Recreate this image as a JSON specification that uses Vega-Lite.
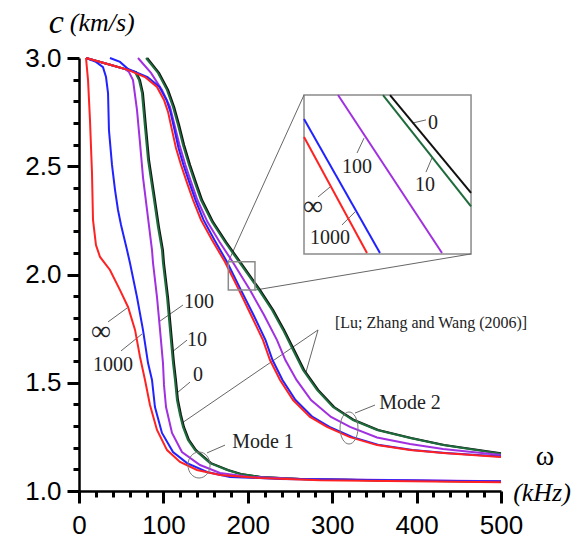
{
  "$schema": "https://vega.github.io/schema/vega-lite/v6.json",
  "width": 422,
  "height": 433,
  "autosize": {"type": "none"},
  "padding": {"left": 79, "top": 58, "right": 72, "bottom": 58},
  "background": "white",
  "config": {"view": {"stroke": null}},
  "datasets": {
    "curves": [
      {"s":"inf","m":1,"w":8.3,"c":3.0},{"s":"inf","m":1,"w":10.7,"c":2.898},{"s":"inf","m":1,"w":13.0,"c":2.714},{"s":"inf","m":1,"w":15.4,"c":2.469},{"s":"inf","m":1,"w":16.6,"c":2.252},{"s":"inf","m":1,"w":20.1,"c":2.136},{"s":"inf","m":1,"w":24.9,"c":2.081},{"s":"inf","m":1,"w":36.7,"c":2.021},{"s":"inf","m":1,"w":48.6,"c":1.928},{"s":"inf","m":1,"w":58.1,"c":1.85},{"s":"inf","m":1,"w":66.4,"c":1.744},{"s":"inf","m":1,"w":72.3,"c":1.619},{"s":"inf","m":1,"w":78.2,"c":1.513},{"s":"inf","m":1,"w":84.1,"c":1.397},{"s":"inf","m":1,"w":92.4,"c":1.282},{"s":"inf","m":1,"w":104.3,"c":1.189},{"s":"inf","m":1,"w":119.7,"c":1.134},{"s":"inf","m":1,"w":139.8,"c":1.097},{"s":"inf","m":1,"w":167.1,"c":1.074},{"s":"inf","m":1,"w":214.5,"c":1.06},{"s":"inf","m":1,"w":285.5,"c":1.05},{"s":"inf","m":1,"w":500,"c":1.04},
      {"s":"1000","m":1,"w":8.3,"c":3.0},{"s":"1000","m":1,"w":20.1,"c":2.982},{"s":"1000","m":1,"w":28.4,"c":2.958},{"s":"1000","m":1,"w":32.0,"c":2.912},{"s":"1000","m":1,"w":34.4,"c":2.838},{"s":"1000","m":1,"w":35.5,"c":2.667},{"s":"1000","m":1,"w":39.1,"c":2.506},{"s":"1000","m":1,"w":42.7,"c":2.39},{"s":"1000","m":1,"w":46.2,"c":2.298},{"s":"1000","m":1,"w":49.8,"c":2.229},{"s":"1000","m":1,"w":56.9,"c":2.113},{"s":"1000","m":1,"w":60.4,"c":2.053},{"s":"1000","m":1,"w":68.7,"c":1.896},{"s":"1000","m":1,"w":75.8,"c":1.744},{"s":"1000","m":1,"w":81.8,"c":1.591},{"s":"1000","m":1,"w":86.5,"c":1.513},{"s":"1000","m":1,"w":90.0,"c":1.388},{"s":"1000","m":1,"w":98.3,"c":1.268},{"s":"1000","m":1,"w":111.4,"c":1.18},{"s":"1000","m":1,"w":128.0,"c":1.129},{"s":"1000","m":1,"w":151.7,"c":1.088},{"s":"1000","m":1,"w":178.9,"c":1.065},{"s":"1000","m":1,"w":238.2,"c":1.056},{"s":"1000","m":1,"w":500,"c":1.044},
      {"s":"100","m":1,"w":8.3,"c":3.0},{"s":"100","m":1,"w":37.9,"c":2.968},{"s":"100","m":1,"w":54.5,"c":2.949},{"s":"100","m":1,"w":59.2,"c":2.935},{"s":"100","m":1,"w":64.0,"c":2.898},{"s":"100","m":1,"w":68.7,"c":2.76},{"s":"100","m":1,"w":72.3,"c":2.607},{"s":"100","m":1,"w":75.8,"c":2.45},{"s":"100","m":1,"w":80.6,"c":2.298},{"s":"100","m":1,"w":86.5,"c":2.113},{"s":"100","m":1,"w":87.7,"c":2.053},{"s":"100","m":1,"w":92.4,"c":1.896},{"s":"100","m":1,"w":96.0,"c":1.744},{"s":"100","m":1,"w":99.5,"c":1.591},{"s":"100","m":1,"w":100.7,"c":1.49},{"s":"100","m":1,"w":103.1,"c":1.388},{"s":"100","m":1,"w":110.2,"c":1.268},{"s":"100","m":1,"w":122.0,"c":1.18},{"s":"100","m":1,"w":143.4,"c":1.12},{"s":"100","m":1,"w":167.1,"c":1.083},{"s":"100","m":1,"w":202.6,"c":1.065},{"s":"100","m":1,"w":261.8,"c":1.056},{"s":"100","m":1,"w":500,"c":1.045},
      {"s":"10","m":1,"w":8.3,"c":3.0},{"s":"10","m":1,"w":37.9,"c":2.968},{"s":"10","m":1,"w":58.1,"c":2.945},{"s":"10","m":1,"w":66.4,"c":2.935},{"s":"10","m":1,"w":71.1,"c":2.898},{"s":"10","m":1,"w":74.6,"c":2.838},{"s":"10","m":1,"w":78.2,"c":2.681},{"s":"10","m":1,"w":81.8,"c":2.529},{"s":"10","m":1,"w":87.7,"c":2.376},{"s":"10","m":1,"w":93.6,"c":2.219},{"s":"10","m":1,"w":98.3,"c":2.113},{"s":"10","m":1,"w":99.5,"c":2.053},{"s":"10","m":1,"w":104.3,"c":1.896},{"s":"10","m":1,"w":107.8,"c":1.744},{"s":"10","m":1,"w":111.4,"c":1.591},{"s":"10","m":1,"w":113.7,"c":1.513},{"s":"10","m":1,"w":116.1,"c":1.42},{"s":"10","m":1,"w":119.7,"c":1.351},{"s":"10","m":1,"w":123.2,"c":1.296},{"s":"10","m":1,"w":129.1,"c":1.236},{"s":"10","m":1,"w":137.4,"c":1.189},{"s":"10","m":1,"w":155.2,"c":1.129},{"s":"10","m":1,"w":175.4,"c":1.097},{"s":"10","m":1,"w":190.8,"c":1.079},{"s":"10","m":1,"w":214.5,"c":1.065},{"s":"10","m":1,"w":261.8,"c":1.056},{"s":"10","m":1,"w":380.1,"c":1.047},{"s":"10","m":1,"w":500,"c":1.044},
      {"s":"0","m":1,"w":8.3,"c":3.0},{"s":"0","m":1,"w":37.9,"c":2.968},{"s":"0","m":1,"w":58.1,"c":2.945},{"s":"0","m":1,"w":67.6,"c":2.935},{"s":"0","m":1,"w":72.3,"c":2.898},{"s":"0","m":1,"w":75.8,"c":2.838},{"s":"0","m":1,"w":79.4,"c":2.681},{"s":"0","m":1,"w":83.0,"c":2.529},{"s":"0","m":1,"w":88.9,"c":2.376},{"s":"0","m":1,"w":94.8,"c":2.219},{"s":"0","m":1,"w":99.5,"c":2.113},{"s":"0","m":1,"w":100.7,"c":2.053},{"s":"0","m":1,"w":105.5,"c":1.896},{"s":"0","m":1,"w":109.0,"c":1.744},{"s":"0","m":1,"w":112.6,"c":1.591},{"s":"0","m":1,"w":114.9,"c":1.513},{"s":"0","m":1,"w":117.3,"c":1.42},{"s":"0","m":1,"w":120.9,"c":1.351},{"s":"0","m":1,"w":124.4,"c":1.296},{"s":"0","m":1,"w":130.3,"c":1.236},{"s":"0","m":1,"w":138.6,"c":1.189},{"s":"0","m":1,"w":156.4,"c":1.129},{"s":"0","m":1,"w":176.6,"c":1.097},{"s":"0","m":1,"w":192.0,"c":1.079},{"s":"0","m":1,"w":215.7,"c":1.065},{"s":"0","m":1,"w":263.0,"c":1.056},{"s":"0","m":1,"w":381.3,"c":1.047},{"s":"0","m":1,"w":500,"c":1.044},
      {"s":"inf","m":2,"w":8.3,"c":3.0},{"s":"inf","m":2,"w":37.9,"c":2.968},{"s":"inf","m":2,"w":58.1,"c":2.945},{"s":"inf","m":2,"w":78.2,"c":2.912},{"s":"inf","m":2,"w":92.4,"c":2.866},{"s":"inf","m":2,"w":100.7,"c":2.806},{"s":"inf","m":2,"w":105.5,"c":2.751},{"s":"inf","m":2,"w":110.2,"c":2.667},{"s":"inf","m":2,"w":114.9,"c":2.584},{"s":"inf","m":2,"w":120.9,"c":2.506},{"s":"inf","m":2,"w":128.0,"c":2.423},{"s":"inf","m":2,"w":135.1,"c":2.344},{"s":"inf","m":2,"w":144.5,"c":2.252},{"s":"inf","m":2,"w":157.6,"c":2.159},{"s":"inf","m":2,"w":173.0,"c":2.058},{"s":"inf","m":2,"w":189.6,"c":1.928},{"s":"inf","m":2,"w":203.8,"c":1.813},{"s":"inf","m":2,"w":218.0,"c":1.697},{"s":"inf","m":2,"w":226.3,"c":1.605},{"s":"inf","m":2,"w":238.2,"c":1.513},{"s":"inf","m":2,"w":253.6,"c":1.42},{"s":"inf","m":2,"w":273.7,"c":1.342},{"s":"inf","m":2,"w":293.8,"c":1.296},{"s":"inf","m":2,"w":321.1,"c":1.249},{"s":"inf","m":2,"w":353.1,"c":1.212},{"s":"inf","m":2,"w":392.2,"c":1.189},{"s":"inf","m":2,"w":431.3,"c":1.176},{"s":"inf","m":2,"w":500,"c":1.157},
      {"s":"1000","m":2,"w":36.7,"c":3.0},{"s":"1000","m":2,"w":48.6,"c":2.982},{"s":"1000","m":2,"w":58.1,"c":2.949},{"s":"1000","m":2,"w":81.2,"c":2.912},{"s":"1000","m":2,"w":95.4,"c":2.866},{"s":"1000","m":2,"w":103.7,"c":2.806},{"s":"1000","m":2,"w":108.4,"c":2.751},{"s":"1000","m":2,"w":113.2,"c":2.667},{"s":"1000","m":2,"w":117.9,"c":2.584},{"s":"1000","m":2,"w":123.8,"c":2.506},{"s":"1000","m":2,"w":130.9,"c":2.423},{"s":"1000","m":2,"w":138.0,"c":2.344},{"s":"1000","m":2,"w":147.5,"c":2.252},{"s":"1000","m":2,"w":160.5,"c":2.159},{"s":"1000","m":2,"w":175.4,"c":2.058},{"s":"1000","m":2,"w":191.9,"c":1.928},{"s":"1000","m":2,"w":206.8,"c":1.813},{"s":"1000","m":2,"w":221.0,"c":1.697},{"s":"1000","m":2,"w":229.3,"c":1.605},{"s":"1000","m":2,"w":241.1,"c":1.513},{"s":"1000","m":2,"w":256.5,"c":1.42},{"s":"1000","m":2,"w":276.7,"c":1.342},{"s":"1000","m":2,"w":296.8,"c":1.296},{"s":"1000","m":2,"w":324.1,"c":1.249},{"s":"1000","m":2,"w":356.0,"c":1.212},{"s":"1000","m":2,"w":395.1,"c":1.189},{"s":"1000","m":2,"w":434.2,"c":1.176},{"s":"1000","m":2,"w":500,"c":1.159},
      {"s":"100","m":2,"w":69.9,"c":3.0},{"s":"100","m":2,"w":85.3,"c":2.931},{"s":"100","m":2,"w":98.3,"c":2.852},{"s":"100","m":2,"w":107.8,"c":2.774},{"s":"100","m":2,"w":113.2,"c":2.691},{"s":"100","m":2,"w":119.1,"c":2.598},{"s":"100","m":2,"w":126.1,"c":2.506},{"s":"100","m":2,"w":133.2,"c":2.423},{"s":"100","m":2,"w":140.3,"c":2.344},{"s":"100","m":2,"w":152.3,"c":2.242},{"s":"100","m":2,"w":166.6,"c":2.15},{"s":"100","m":2,"w":182.1,"c":2.058},{"s":"100","m":2,"w":202.6,"c":1.928},{"s":"100","m":2,"w":219.2,"c":1.813},{"s":"100","m":2,"w":234.6,"c":1.697},{"s":"100","m":2,"w":244.5,"c":1.605},{"s":"100","m":2,"w":257.7,"c":1.513},{"s":"100","m":2,"w":274.9,"c":1.42},{"s":"100","m":2,"w":298.6,"c":1.342},{"s":"100","m":2,"w":321.1,"c":1.296},{"s":"100","m":2,"w":353.1,"c":1.247},{"s":"100","m":2,"w":392.2,"c":1.217},{"s":"100","m":2,"w":431.3,"c":1.194},{"s":"100","m":2,"w":500,"c":1.166},
      {"s":"10","m":2,"w":79.4,"c":3.0},{"s":"10","m":2,"w":93.6,"c":2.931},{"s":"10","m":2,"w":104.3,"c":2.852},{"s":"10","m":2,"w":111.4,"c":2.774},{"s":"10","m":2,"w":117.3,"c":2.691},{"s":"10","m":2,"w":123.2,"c":2.598},{"s":"10","m":2,"w":130.3,"c":2.506},{"s":"10","m":2,"w":137.4,"c":2.423},{"s":"10","m":2,"w":144.5,"c":2.344},{"s":"10","m":2,"w":157.6,"c":2.242},{"s":"10","m":2,"w":173.0,"c":2.15},{"s":"10","m":2,"w":189.6,"c":2.058},{"s":"10","m":2,"w":213.3,"c":1.928},{"s":"10","m":2,"w":228.7,"c":1.836},{"s":"10","m":2,"w":241.7,"c":1.744},{"s":"10","m":2,"w":253.6,"c":1.651},{"s":"10","m":2,"w":265.4,"c":1.559},{"s":"10","m":2,"w":282.0,"c":1.467},{"s":"10","m":2,"w":300.9,"c":1.388},{"s":"10","m":2,"w":324.6,"c":1.328},{"s":"10","m":2,"w":353.1,"c":1.282},{"s":"10","m":2,"w":392.2,"c":1.245},{"s":"10","m":2,"w":431.3,"c":1.212},{"s":"10","m":2,"w":500,"c":1.172},
      {"s":"0","m":2,"w":80.8,"c":3.0},{"s":"0","m":2,"w":95.0,"c":2.931},{"s":"0","m":2,"w":105.7,"c":2.852},{"s":"0","m":2,"w":112.8,"c":2.774},{"s":"0","m":2,"w":118.7,"c":2.691},{"s":"0","m":2,"w":124.6,"c":2.598},{"s":"0","m":2,"w":131.7,"c":2.506},{"s":"0","m":2,"w":138.8,"c":2.423},{"s":"0","m":2,"w":145.9,"c":2.344},{"s":"0","m":2,"w":159.0,"c":2.242},{"s":"0","m":2,"w":174.4,"c":2.15},{"s":"0","m":2,"w":191.0,"c":2.058},{"s":"0","m":2,"w":214.7,"c":1.928},{"s":"0","m":2,"w":230.1,"c":1.836},{"s":"0","m":2,"w":243.1,"c":1.744},{"s":"0","m":2,"w":255.0,"c":1.651},{"s":"0","m":2,"w":266.8,"c":1.559},{"s":"0","m":2,"w":283.4,"c":1.467},{"s":"0","m":2,"w":302.3,"c":1.388},{"s":"0","m":2,"w":326.0,"c":1.328},{"s":"0","m":2,"w":354.5,"c":1.282},{"s":"0","m":2,"w":393.6,"c":1.245},{"s":"0","m":2,"w":432.7,"c":1.212},{"s":"0","m":2,"w":500,"c":1.174}
    ],
    "inset": [
      {"s":"inf","w":266.6,"c":2.635,"w2":341.2,"c2":2.099},
      {"s":"1000","w":266.6,"c":2.718,"w2":356.6,"c2":2.099},
      {"s":"100","w":306.9,"c":2.829,"w2":430.1,"c2":2.099},
      {"s":"10","w":360.2,"c":2.829,"w2":464.5,"c2":2.315},
      {"s":"0","w":368.5,"c":2.829,"w2":464.5,"c2":2.377}
    ],
    "boxes": [
      {"k":"inset","w":266.6,"c":2.829,"w2":464.5,"c2":2.095},
      {"k":"small","w":176.9,"c":2.059,"w2":208.5,"c2":1.928}
    ],
    "leaders": [
      {"k":"lead","w":34.4,"c":1.781,"w2":56.9,"c2":1.845},
      {"k":"lead","w":49.8,"c":1.647,"w2":74.6,"c2":1.725},
      {"k":"lead","w":123.2,"c":1.859,"w2":96.0,"c2":1.785},
      {"k":"lead","w":128.0,"c":1.697,"w2":110.2,"c2":1.642},
      {"k":"lead","w":131.5,"c":1.503,"w2":116.1,"c2":1.453},
      {"k":"lead","w":151.7,"c":1.176,"w2":173.0,"c2":1.212},
      {"k":"lead","w":327.0,"c":1.36,"w2":350.7,"c2":1.397},
      {"k":"lead","w":283.2,"c":1.744,"w2":269.0,"c2":1.55},
      {"k":"lead","w":283.2,"c":1.744,"w2":122.0,"c2":1.314},
      {"k":"lead","w":395.7,"c":2.7,"w2":411.1,"c2":2.714},
      {"k":"lead","w":411.1,"c":2.473,"w2":418.2,"c2":2.538},
      {"k":"lead","w":329.4,"c":2.561,"w2":337.7,"c2":2.63},
      {"k":"lead","w":283.2,"c":2.358,"w2":297.4,"c2":2.404},
      {"k":"lead","w":311.6,"c":2.229,"w2":327.0,"c2":2.289},
      {"k":"conn","w":176.9,"c":2.059,"w2":266.6,"c2":2.829},
      {"k":"conn","w":208.5,"c":1.928,"w2":464.5,"c2":2.095}
    ],
    "ellipses": [
      {"k":"mode1","w":142.2,"c":1.12},
      {"k":"mode2","w":319.9,"c":1.291}
    ],
    "texts": [
      {"k":"lab","t":"1000","w":40.3,"c":1.582},
      {"k":"lab","t":"100","w":142.2,"c":1.873},
      {"k":"lab","t":"10","w":139.8,"c":1.697},
      {"k":"lab","t":"0","w":141.0,"c":1.536},
      {"k":"lab","t":"Mode 1","w":218.0,"c":1.226},
      {"k":"lab","t":"Mode 2","w":392.2,"c":1.406},
      {"k":"lab","t":"0","w":419.4,"c":2.7},
      {"k":"lab","t":"10","w":410.0,"c":2.413},
      {"k":"lab","t":"100","w":329.4,"c":2.497},
      {"k":"lab","t":"1000","w":297.4,"c":2.169},
      {"k":"inf","t":"∞","w":26.1,"c":1.734},
      {"k":"inf","t":"∞","w":277.3,"c":2.312},
      {"k":"ref","t":"[Lu; Zhang and Wang (2006)]","w":417.1,"c":1.776},
      {"k":"big","t":"c","w":-27.0,"c":3.16},
      {"k":"unit","t":"(km/s)","w":27.5,"c":3.16},
      {"k":"omega","t":"ω","w":552.1,"c":1.157},
      {"k":"unit","t":"(kHz)","w":548.6,"c":0.99}
    ]
  },
  "encoding": {
    "x": {"field": "w", "type": "quantitative", "scale": {"domain": [0, 500], "nice": false, "zero": false},
      "axis": {"orient": "bottom", "title": null, "grid": false, "ticks": true,
        "values": [0,20,40,60,80,100,120,140,160,180,200,220,240,260,280,300,320,340,360,380,400,420,440,460,480,500],
        "labelExpr": "datum.value % 100 === 0 ? datum.label : ''",
        "tickSize": {"condition": {"test": "datum.value % 100 === 0", "value": 12}, "value": 6},
        "tickWidth": 3, "tickColor": "#000000",
        "domainColor": "black", "domainWidth": 2.5,
        "labelFont": "Liberation Sans", "labelFontSize": 26, "labelColor": "black", "labelPadding": 9, "labelFlush": false, "labelOverlap": false}},
    "y": {"field": "c", "type": "quantitative", "scale": {"domain": [1, 3], "nice": false, "zero": false},
      "axis": {"orient": "left", "title": null, "grid": false, "ticks": true,
        "values": [1.0,1.1,1.2,1.3,1.4,1.5,1.6,1.7,1.8,1.9,2.0,2.1,2.2,2.3,2.4,2.5,2.6,2.7,2.8,2.9,3.0],
        "labelExpr": "abs(datum.value*2 - round(datum.value*2)) < 0.01 ? format(datum.value, '.1f') : ''",
        "tickSize": {"condition": {"test": "abs(datum.value*2 - round(datum.value*2)) < 0.01", "value": 12}, "value": 6},
        "tickWidth": 3, "tickColor": "#000000",
        "domainColor": "black", "domainWidth": 2.5,
        "labelFont": "Liberation Sans", "labelFontSize": 26, "labelColor": "black", "labelPadding": 6, "labelFlush": false, "labelOverlap": false}}
  },
  "layer": [
    {"data": {"name": "boxes"}, "transform": [{"filter": "datum.k == 'inset'"}], "mark": {"type": "rect", "fill": "white", "stroke": "#8a8a8a", "strokeWidth": 1.5}, "encoding": {"x2": {"field": "w2"}, "y2": {"field": "c2"}}},
    {"data": {"name": "leaders"}, "mark": {"type": "rule", "color": "#666666", "strokeWidth": 1}, "encoding": {"x2": {"field": "w2"}, "y2": {"field": "c2"}}},
    {"data": {"name": "curves"}, "transform": [{"filter": "datum.s == '0'"}], "mark": {"type": "line", "color": "#111111", "strokeWidth": 2}, "encoding": {"detail": {"field": "m"}}},
    {"data": {"name": "curves"}, "transform": [{"filter": "datum.s == '10'"}], "mark": {"type": "line", "color": "#1e6b3c", "strokeWidth": 2}, "encoding": {"detail": {"field": "m"}}},
    {"data": {"name": "curves"}, "transform": [{"filter": "datum.s == '100'"}], "mark": {"type": "line", "color": "#a030e0", "strokeWidth": 2}, "encoding": {"detail": {"field": "m"}}},
    {"data": {"name": "curves"}, "transform": [{"filter": "datum.s == '1000'"}], "mark": {"type": "line", "color": "#2222ff", "strokeWidth": 2}, "encoding": {"detail": {"field": "m"}}},
    {"data": {"name": "curves"}, "transform": [{"filter": "datum.s == 'inf'"}], "mark": {"type": "line", "color": "#ff2222", "strokeWidth": 2}, "encoding": {"detail": {"field": "m"}}},
    {"data": {"name": "inset"}, "mark": {"type": "rule", "strokeWidth": 2}, "encoding": {"x2": {"field": "w2"}, "y2": {"field": "c2"}, "color": {"field": "s", "type": "nominal", "legend": null, "scale": {"domain": ["inf","1000","100","10","0"], "range": ["#ff2222","#2222ff","#a030e0","#1e6b3c","#111111"]}}}},
    {"data": {"name": "boxes"}, "transform": [{"filter": "datum.k == 'small'"}], "mark": {"type": "rect", "fill": null, "fillOpacity": 0, "stroke": "#8a8a8a", "strokeWidth": 1.5}, "encoding": {"x2": {"field": "w2"}, "y2": {"field": "c2"}}},
    {"data": {"name": "ellipses"}, "transform": [{"filter": "datum.k == 'mode1'"}], "mark": {"type": "point", "filled": false, "stroke": "#777777", "strokeWidth": 1, "size": 676, "opacity": 1, "shape": "M 0 -1 C 0.469 -1 0.85 -0.552 0.85 0 C 0.85 0.552 0.469 1 0 1 C -0.469 1 -0.85 0.552 -0.85 0 C -0.85 -0.552 -0.469 -1 0 -1 Z"}},
    {"data": {"name": "ellipses"}, "transform": [{"filter": "datum.k == 'mode2'"}], "mark": {"type": "point", "filled": false, "stroke": "#777777", "strokeWidth": 1, "size": 1024, "opacity": 1, "shape": "M 0 -1 C 0.309 -1 0.56 -0.552 0.56 0 C 0.56 0.552 0.309 1 0 1 C -0.309 1 -0.56 0.552 -0.56 0 C -0.56 -0.552 -0.309 -1 0 -1 Z"}},
    {"data": {"name": "texts"}, "transform": [{"filter": "datum.k == 'lab'"}], "mark": {"type": "text", "font": "Liberation Serif", "fontSize": 20, "color": "#222222", "align": "center", "baseline": "middle"}, "encoding": {"text": {"field": "t"}}},
    {"data": {"name": "texts"}, "transform": [{"filter": "datum.k == 'inf'"}], "mark": {"type": "text", "font": "Liberation Serif", "fontSize": 28, "color": "#222222", "align": "center", "baseline": "middle"}, "encoding": {"text": {"field": "t"}}},
    {"data": {"name": "texts"}, "transform": [{"filter": "datum.k == 'ref'"}], "mark": {"type": "text", "font": "Liberation Serif", "fontSize": 16, "color": "#222222", "align": "center", "baseline": "middle"}, "encoding": {"text": {"field": "t"}}},
    {"data": {"name": "texts"}, "transform": [{"filter": "datum.k == 'big'"}], "mark": {"type": "text", "font": "Liberation Serif", "fontSize": 34, "fontStyle": "italic", "color": "black", "align": "center", "baseline": "middle"}, "encoding": {"text": {"field": "t"}}},
    {"data": {"name": "texts"}, "transform": [{"filter": "datum.k == 'unit'"}], "mark": {"type": "text", "font": "Liberation Serif", "fontSize": 26, "fontStyle": "italic", "color": "black", "align": "center", "baseline": "middle"}, "encoding": {"text": {"field": "t"}}},
    {"data": {"name": "texts"}, "transform": [{"filter": "datum.k == 'omega'"}], "mark": {"type": "text", "font": "Liberation Serif", "fontSize": 28, "color": "black", "align": "center", "baseline": "middle"}, "encoding": {"text": {"field": "t"}}}
  ]
}
